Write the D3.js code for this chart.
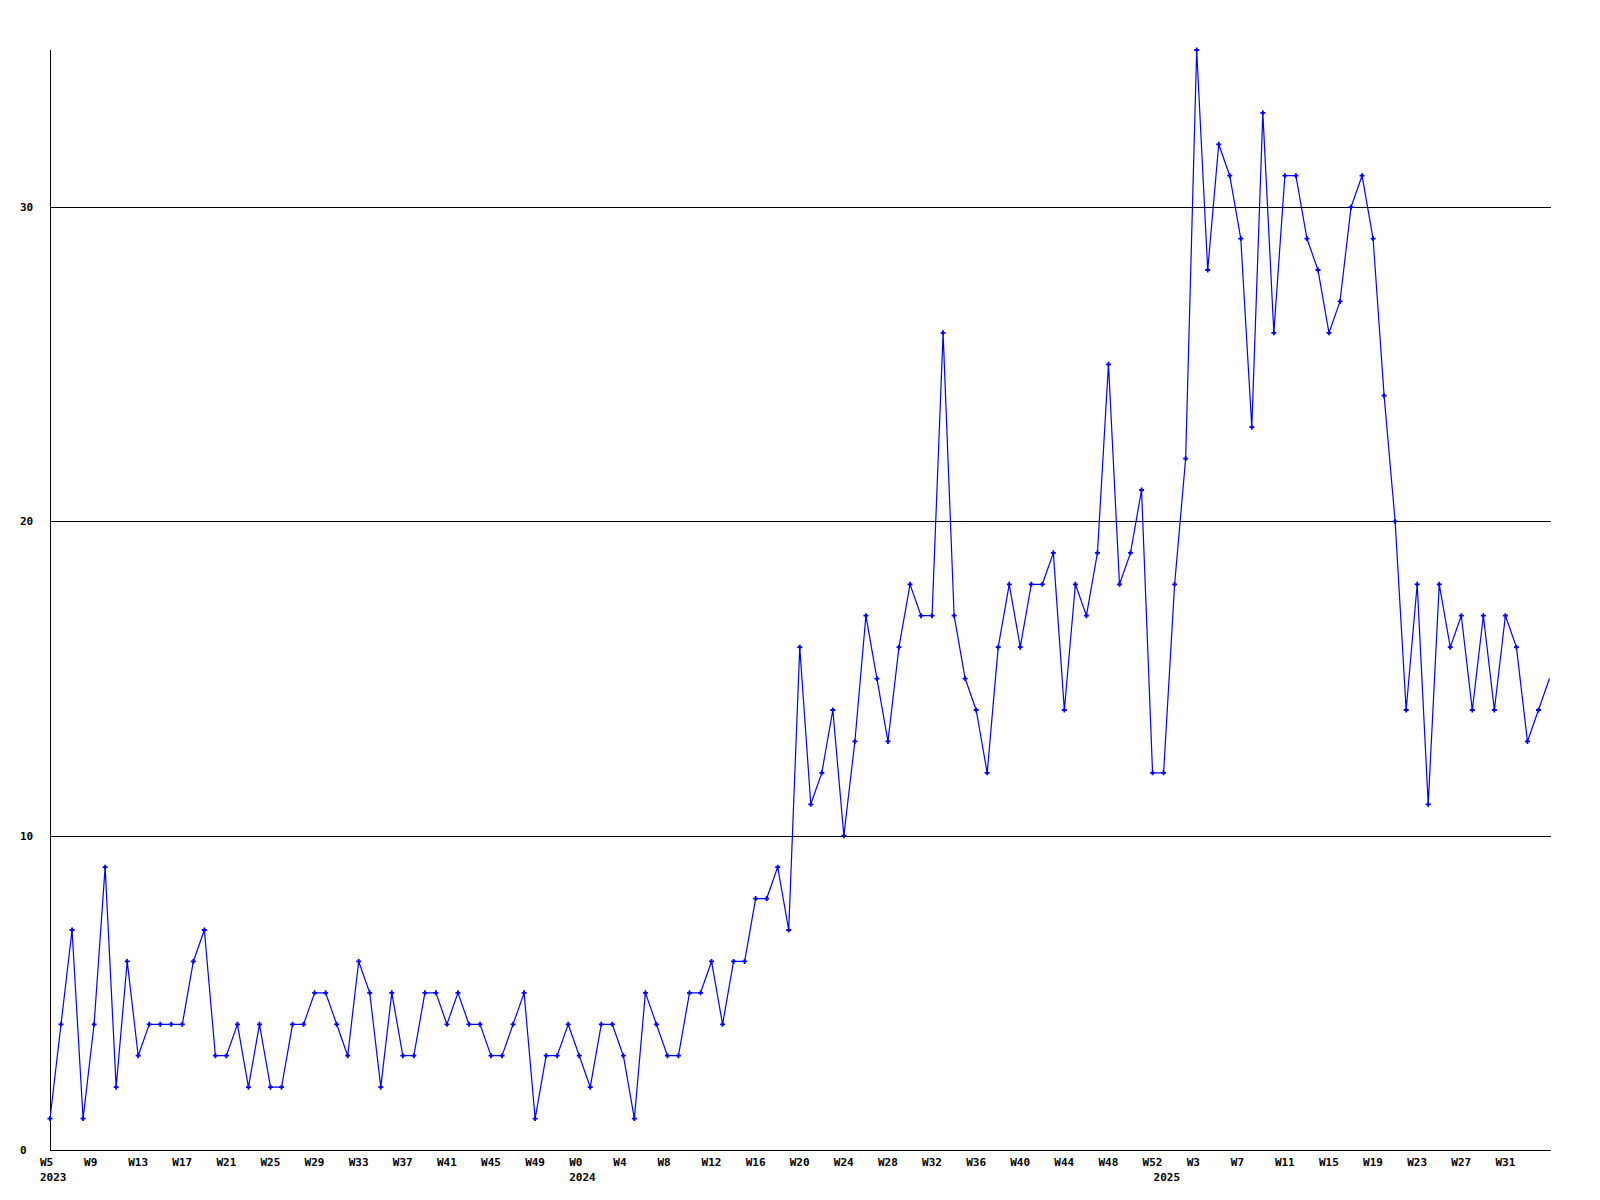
<!DOCTYPE html>
<html>
<head>
<meta charset="utf-8">
<script src="https://cdn.jsdelivr.net/npm/d3@7"></script>
<style>
  html, body { margin: 0; padding: 0; background: #fff; }
  svg { display: block; }
  text { font-family: "DejaVu Sans Mono", "Liberation Mono", monospace; font-weight: bold; font-size: 11px; fill: #000; }
</style>
</head>
<body>
<svg id="chart" width="1600" height="1200"></svg>
<script>
// Week ranges per year (category axis)
const yearSegments = [
  { year: "2023", from: 5, to: 52 },
  { year: "2024", from: 0, to: 52 },
  { year: "2025", from: 0, to: 35 }
];

// Weekly counts, 2023 W5 .. 2025 W35
const values2023 = [1,4,7,1,4,9,2,6,3,4,4,4,4,6,7,3,3,4,2,4,2,2,4,4,5,5,4,3,6,5,2,5,3,3,5,5,4,5,4,4,3,3,4,5,1,3,3,4];
const values2024 = [3,2,4,4,3,1,5,4,3,3,5,5,6,4,6,6,8,8,9,7,16,11,12,14,10,13,17,15,13,16,18,17,17,26,17,15,14,12,16,18,16,18,18,19,14,18,17,19,25,18,19,21,12];
const values2025 = [12,18,22,35,28,32,31,29,23,33,26,31,31,29,28,26,27,30,31,29,24,20,14,18,11,18,16,17,14,17,14,17,16,13,14,15];

const yTicks = [0, 10, 20, 30];
const yMax = 35;
const tickEvery = 4;
const lastTickLabel = "W31";

(function () {
  // Build categories
  const categories = [];
  yearSegments.forEach(seg => {
    for (let w = seg.from; w <= seg.to; w++) categories.push({ year: seg.year, week: "W" + w });
  });
  const values = values2023.concat(values2024, values2025);
  const data = categories.map((c, i) => ({ i, year: c.year, week: c.week, v: values[i] }));

  const svg = d3.select("#chart");
  const mLeft = 50, mRight = 1551, mTop = 50, mBottom = 1150;

  const x = d3.scaleLinear().domain([0, data.length - 1]).range([mLeft, 1549.5]);
  const y = d3.scaleLinear().domain([0, yMax]).range([mBottom, mTop]);

  // Gridlines
  svg.append("g").selectAll("line").data(yTicks.filter(t => t > 0)).join("line")
    .attr("x1", mLeft).attr("x2", mRight)
    .attr("y1", d => Math.round(y(d)) + 0.5).attr("y2", d => Math.round(y(d)) + 0.5)
    .attr("stroke", "#000").attr("stroke-width", 1);

  // Axes lines
  svg.append("line").attr("x1", mLeft + 0.5).attr("x2", mLeft + 0.5).attr("y1", mTop).attr("y2", mBottom + 0.5)
    .attr("stroke", "#000");
  svg.append("line").attr("x1", mLeft).attr("x2", mRight).attr("y1", mBottom + 0.5).attr("y2", mBottom + 0.5)
    .attr("stroke", "#000");

  // Y labels
  svg.append("g").selectAll("text").data(yTicks).join("text")
    .attr("x", 20).attr("y", d => y(d) + 4)
    .text(d => d);

  // X labels
  const lastIdx = data.findIndex(d => d.week === lastTickLabel && d.year === "2025");
  const ticks = data.filter(d => d.i % tickEvery === 0 && d.i <= lastIdx);
  svg.append("g").selectAll("text").data(ticks).join("text")
    .attr("x", d => x(d.i) - 10).attr("y", 1166)
    .text(d => d.week);

  // Year labels at first week of each year
  const firsts = data.filter((d, k) => k === 0 || data[k - 1].year !== d.year);
  svg.append("g").selectAll("text").data(firsts).join("text")
    .attr("x", d => x(d.i) - 10).attr("y", 1181)
    .text(d => d.year);

  // Line
  svg.append("defs").append("clipPath").attr("id", "clip")
    .append("rect").attr("x", mLeft).attr("y", 0).attr("width", mRight - mLeft).attr("height", mBottom);
  const line = d3.line().x(d => x(d.i)).y(d => y(d.v));
  svg.append("path").datum(data).attr("d", line)
    .attr("fill", "none").attr("stroke", "#0000ff").attr("stroke-width", 1.2)
    .attr("clip-path", "url(#clip)");

  // Markers
  svg.append("g").selectAll("path").data(data.slice(0, -1)).join("path")
    .attr("transform", d => `translate(${x(d.i)},${y(d.v)})`)
    .attr("d", "M-2.5,0H2.5M0,-2.5V2.5")
    .attr("stroke", "#0000ff").attr("stroke-width", 1.8).attr("fill", "none");
})();
</script>
</body>
</html>
